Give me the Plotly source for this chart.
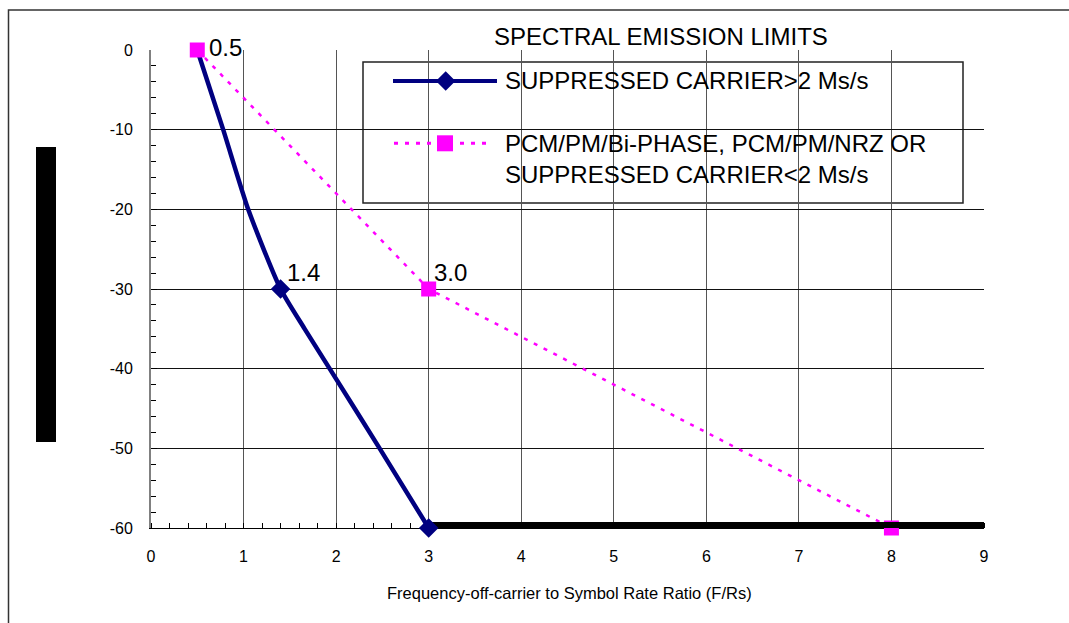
import plotly.graph_objects as go

# ---- data -------------------------------------------------------------
# Suppressed carrier > 2 Ms/s mask (F/Rs, dB)
sc_x = [0.5, 0.78, 1.05, 1.4, 1.66, 1.93, 2.47, 3.0]
sc_y = [0, -10, -20, -30, -35, -40, -50, -60]
sc_marked = [False, False, False, True, False, False, False, True]

# PCM/PM/Bi-phase, PCM/PM/NRZ or suppressed carrier < 2 Ms/s mask
pcm_x = [0.5, 3.0, 8.0]
pcm_y = [0, -30, -60]

# -60 dB floor beyond F/Rs = 3
floor_x = [3, 9]
floor_y = [-60, -60]

# breakpoints that carry a value label
label_x = [0.5, 1.4, 3.0]
label_y = [0, -30, -30]

x_ticks = list(range(0, 10))
y_ticks = list(range(-60, 1, 10))
x_grid = list(range(1, 9))
y_grid = list(range(-50, 0, 10))

TITLE = "SPECTRAL EMISSION LIMITS"
X_TITLE = "Frequency-off-carrier to Symbol Rate Ratio (F/Rs)"
SC_NAME = "SUPPRESSED CARRIER>2 Ms/s"
PCM_NAME = "PCM/PM/Bi-PHASE, PCM/PM/NRZ OR<br>SUPPRESSED CARRIER<2 Ms/s"

# ---- geometry helpers ---------------------------------------------------
W, H = 1069, 623
L, R, T, B = 151, 85, 50, 95
PW, PH = W - L - R, H - T - B
X0, X1, Y0, Y1 = 0, 9, -60, 0


def fx(px):
    return (px - L) / PW


def fy(py):
    return (H - B - py) / PH


def dx(px):
    return X0 + (px - L) / PW * (X1 - X0)


def dy(py):
    return Y1 - (py - T) / PH * (Y1 - Y0)


FONT = "Liberation Sans, Arial, sans-serif"
NAVY = "#000080"
PINK = "#FF00FF"

fig = go.Figure()

# suppressed-carrier curve (line only, markers added on top later)
fig.add_trace(go.Scatter(
    x=sc_x, y=sc_y, mode="lines",
    line=dict(color=NAVY, width=4.5, shape="spline", smoothing=0.6),
    showlegend=False, hoverinfo="skip",
))

# PCM curve
fig.add_trace(go.Scatter(
    x=pcm_x, y=pcm_y, mode="lines+markers",
    line=dict(color=PINK, width=2.5, dash="4px,7px"),
    marker=dict(symbol="square", size=15, color=PINK),
    cliponaxis=False, showlegend=False,
))

# floor
fig.add_trace(go.Scatter(
    x=floor_x, y=floor_y, mode="lines",
    line=dict(color="black", width=12),
    showlegend=False, hoverinfo="skip",
))

# suppressed-carrier markers
mx = [x for x, m in zip(sc_x, sc_marked) if m]
my = [y for y, m in zip(sc_y, sc_marked) if m]
fig.add_trace(go.Scatter(
    x=mx, y=my, mode="markers",
    marker=dict(symbol="diamond", size=15, color=NAVY),
    cliponaxis=False, showlegend=False,
))

# ---- legend keys (drawn on the overlay axes) ---------------------------
fig.add_trace(go.Scatter(
    x=[dx(393), dx(497)], y=[dy(81), dy(81)], mode="lines",
    line=dict(color=NAVY, width=4), xaxis="x2", yaxis="y2",
    showlegend=False, hoverinfo="skip",
))
fig.add_trace(go.Scatter(
    x=[dx(445.7)], y=[dy(81)], mode="markers",
    marker=dict(symbol="diamond", size=15, color=NAVY), xaxis="x2", yaxis="y2",
    showlegend=False, hoverinfo="skip",
))
fig.add_trace(go.Scatter(
    x=[dx(394), dx(492)], y=[dy(143.3), dy(143.3)], mode="lines",
    line=dict(color=PINK, width=3, dash="4px,7px"), xaxis="x2", yaxis="y2",
    showlegend=False, hoverinfo="skip",
))
fig.add_trace(go.Scatter(
    x=[dx(445)], y=[dy(143.3)], mode="markers",
    marker=dict(symbol="square", size=16, color=PINK), xaxis="x2", yaxis="y2",
    showlegend=False, hoverinfo="skip",
))

# ---- annotations --------------------------------------------------------
annotations = []
label_shift = [(10, 3), (4, 17), (3, 17)]
for (x, y), (sx, sy) in zip(zip(label_x, label_y), label_shift):
    annotations.append(dict(
        x=x, y=y, xref="x", yref="y", text=f"{x:.1f}", showarrow=False,
        xanchor="left", yanchor="middle", xshift=sx, yshift=sy,
        font=dict(family=FONT, size=24, color="black"),
    ))

annotations.append(dict(
    x=fx(660.5), y=fy(36), xref="paper", yref="paper", text=TITLE,
    showarrow=False, xanchor="center", yanchor="middle",
    font=dict(family=FONT, size=24, color="black"),
))
annotations.append(dict(
    x=fx(503), y=fy(81), xref="paper", yref="paper", text=SC_NAME,
    showarrow=False, xanchor="left", yanchor="middle",
    font=dict(family=FONT, size=24, color="black"),
))
annotations.append(dict(
    x=fx(503), y=fy(159), xref="paper", yref="paper", text=PCM_NAME,
    showarrow=False, xanchor="left", yanchor="middle", align="left",
    font=dict(family=FONT, size=24, color="black"),
))
annotations.append(dict(
    x=fx(569), y=fy(593), xref="paper", yref="paper", text=X_TITLE,
    showarrow=False, xanchor="center", yanchor="middle",
    font=dict(family=FONT, size=16.5, color="black"),
))

# ---- shapes -------------------------------------------------------------
shapes = [
    # legend frame
    dict(type="rect", xref="paper", yref="paper",
         x0=fx(363), x1=fx(963), y0=fy(203), y1=fy(62),
         fillcolor="white", line=dict(color="#222222", width=1.5),
         layer="between"),
    # vertical axis title block
    dict(type="rect", xref="paper", yref="paper",
         x0=fx(36), x1=fx(56), y0=fy(442), y1=fy(147),
         fillcolor="black", line=dict(width=0), layer="above"),
    # chart frame
    dict(type="rect", xref="paper", yref="paper",
         x0=fx(8.5), x1=fx(1090), y0=fy(650), y1=fy(10),
         fillcolor="rgba(0,0,0,0)", line=dict(color="#333333", width=1.5),
         layer="above"),
]

fig.update_layout(
    width=W, height=H,
    margin=dict(l=L, r=R, t=T, b=B, pad=0),
    paper_bgcolor="white", plot_bgcolor="white",
    showlegend=False,
    font=dict(family=FONT, color="black"),
    annotations=annotations,
    shapes=shapes,
    xaxis=dict(
        range=[X0, X1], tickvals=x_ticks, ticktext=[str(v) for v in x_ticks],
        showgrid=False, zeroline=False,
        showline=True, linecolor="black", linewidth=1,
        ticks="", ticklabelstandoff=14,
        tickfont=dict(family=FONT, size=16, color="black"),
        minor=dict(dtick=0.2, ticks="inside", ticklen=5, tickcolor="black",
                   tickwidth=1, showgrid=False),
        layer="below traces", fixedrange=True,
    ),
    yaxis=dict(
        range=[Y0, Y1], tickvals=y_ticks, ticktext=[str(v) for v in y_ticks],
        showgrid=False, zeroline=False,
        showline=True, linecolor="#808080", linewidth=2,
        ticks="inside", ticklen=6, tickcolor="black", tickwidth=1,
        ticklabelstandoff=13,
        tickfont=dict(family=FONT, size=16, color="black"),
        minor=dict(dtick=2, ticks="inside", ticklen=5, tickcolor="black",
                   tickwidth=1, showgrid=False),
        layer="below traces", fixedrange=True,
    ),
    xaxis2=dict(
        overlaying="x", anchor="y2", range=[X0, X1], tickvals=x_grid,
        showgrid=True, gridcolor="#555555", gridwidth=1,
        showticklabels=False, ticks="", showline=False, zeroline=False,
        fixedrange=True,
    ),
    yaxis2=dict(
        overlaying="y", anchor="x2", range=[Y0, Y1], tickvals=y_grid,
        showgrid=True, gridcolor="#111111", gridwidth=1,
        showticklabels=False, ticks="", showline=False, zeroline=False,
        fixedrange=True,
    ),
)

fig.write_html("out.html")
